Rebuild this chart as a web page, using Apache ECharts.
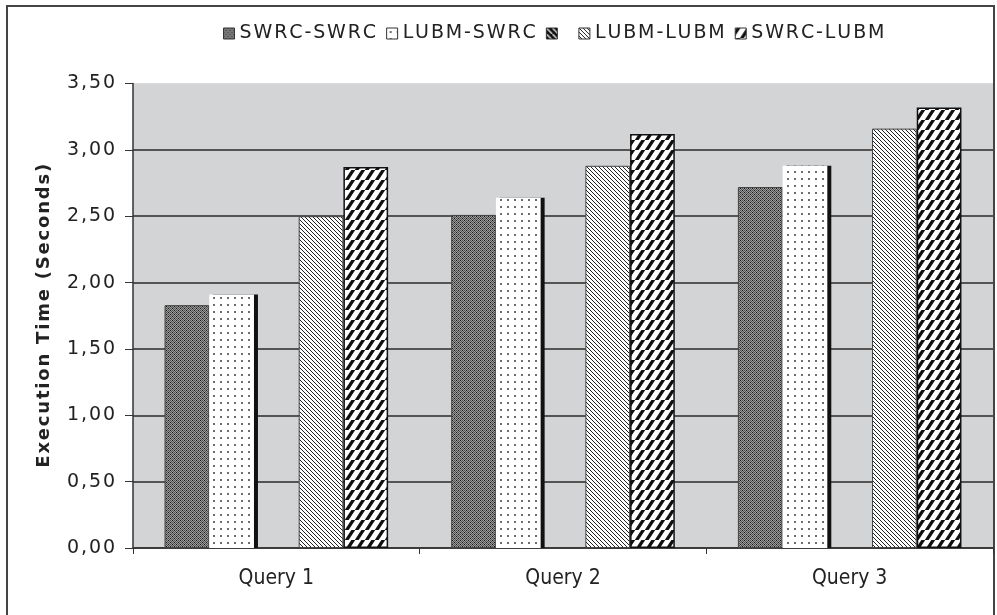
<!DOCTYPE html>
<html>
<head>
<meta charset="utf-8">
<script src="https://cdn.jsdelivr.net/npm/echarts@6/dist/echarts.min.js"></script>
<style>
  html, body { margin: 0; padding: 0; background: #fff; }
  #chart { width: 997px; height: 615px; }
</style>
</head>
<body>
<div id="chart"></div>
<script>
// data
const categories = ['Query 1', 'Query 2', 'Query 3']
const seriesNames = ['SWRC-SWRC', 'LUBM-SWRC', ' ', 'LUBM-LUBM', 'SWRC-LUBM']
const swrcSwrc = [1.83, 2.51, 2.72]
const lubmSwrc = [1.91, 2.64, 2.88]
const emptySeries = ['-', '-', '-']
const lubmLubm = [2.50, 2.88, 3.16]
const swrcLubm = [2.87, 3.12, 3.32]
const yTicks = [0, 0.5, 1, 1.5, 2, 2.5, 3, 3.5]

// the original text is letter-spaced, fake it with hair spaces
const spaced = s => s.split('').join('\u200A')

// small canvas tiles used as fill patterns
function tile(w, h, draw) {
    const c = document.createElement('canvas')
    c.width = w
    c.height = h
    const ctx = c.getContext('2d')
    draw(ctx)
    return { image: c, repeat: 'repeat' }
}

// dark dithered grey
const patChecker = tile(4, 4, ctx => {
    for (let x = 0; x < 4; x++) {
        for (let y = 0; y < 4; y++) {
            ctx.fillStyle = (x + y) % 2 === 0 ? '#525252' : '#9c9c9c'
            ctx.fillRect(x, y, 1, 1)
        }
    }
    ctx.fillStyle = '#151515'
    ctx.fillRect(0, 0, 1, 1)
    ctx.fillRect(2, 2, 1, 1)
})

// white with grey dots
const patDots = tile(7, 7, ctx => {
    ctx.fillStyle = '#fff'
    ctx.fillRect(0, 0, 7, 7)
    ctx.fillStyle = '#6d6d6d'
    ctx.fillRect(3, 3, 2, 2)
})

// thin "\" hatching
const patThin = tile(4, 4, ctx => {
    ctx.fillStyle = '#fff'
    ctx.fillRect(0, 0, 4, 4)
    ctx.fillStyle = '#222'
    for (let i = 0; i < 4; i++) ctx.fillRect(i, i, 1, 1)
})

// thick "/" stripes
const patThick = tile(10, 10, ctx => {
    ctx.fillStyle = '#fff'
    ctx.fillRect(0, 0, 10, 10)
    ctx.strokeStyle = '#111'
    ctx.lineWidth = 3.2
    ctx.beginPath()
    for (let k = -10; k <= 20; k += 10) {
        ctx.moveTo(k - 10, 10 + 10)
        ctx.lineTo(k + 10, -10 + 10 - 10)
    }
    ctx.stroke()
})

// dark stripes, only used by the empty legend entry
const patDark = tile(6, 6, ctx => {
    ctx.fillStyle = '#111'
    ctx.fillRect(0, 0, 6, 6)
    ctx.strokeStyle = '#ddd'
    ctx.lineWidth = 1.5
    ctx.beginPath()
    ctx.moveTo(0, 0)
    ctx.lineTo(6, 6)
    ctx.stroke()
})

const chart = echarts.init(document.getElementById('chart'))

const barBase = {
    type: 'bar',
    barGap: '0%',
    barCategoryGap: '22%'
}

const option = {
    backgroundColor: '#fff',
    animation: false,
    textStyle: { fontFamily: 'DejaVu Sans' },
    graphic: [
        {
            type: 'rect',
            shape: { x: 7, y: 6, width: 987, height: 700 },
            style: { fill: 'none', stroke: '#444', lineWidth: 2 },
            z: 0
        }
    ],
    legend: {
        top: 19,
        left: 218,
        itemWidth: 11,
        itemHeight: 11,
        itemGap: 10,
        icon: 'rect',
        formatter: name => spaced(name),
        textStyle: { fontSize: 19, color: '#222', fontFamily: 'DejaVu Sans' },
        itemStyle: { borderColor: '#333', borderWidth: 1 },
        data: seriesNames
    },
    grid: {
        left: 133,
        right: 4,
        top: 83.5,
        bottom: 67,
        show: true,
        backgroundColor: '#d3d4d6',
        borderWidth: 0
    },
    xAxis: {
        type: 'category',
        data: categories,
        axisLine: { lineStyle: { color: '#333', width: 1.5 } },
        axisTick: { show: true, length: 6, lineStyle: { color: '#333' } },
        axisLabel: {
            margin: 20,
            fontSize: 21,
            color: '#222',
            fontFamily: '"DejaVu Sans Condensed", "DejaVu Sans"'
        }
    },
    yAxis: {
        type: 'value',
        min: 0,
        max: 3.5,
        interval: 0.5,
        name: spaced('Execution Time (Seconds)'),
        nameLocation: 'middle',
        nameGap: 80,
        nameTextStyle: { fontSize: 18, fontWeight: 'bold', color: '#222' },
        axisLine: { show: true, lineStyle: { color: '#333', width: 1.5 } },
        axisTick: { show: true, length: 8, lineStyle: { color: '#333' } },
        axisLabel: {
            margin: 18,
            fontSize: 19,
            color: '#222',
            formatter: v => spaced(v.toFixed(2).replace('.', ','))
        },
        splitLine: {
            lineStyle: {
                // last line (at max) blends into the plot background
                color: yTicks.map((t, i) => i === yTicks.length - 1 ? '#d3d4d6' : '#2a2a2a'),
                width: 1.5
            }
        }
    },
    series: [
        Object.assign({}, barBase, {
            name: seriesNames[0],
            data: swrcSwrc,
            itemStyle: { color: patChecker, borderColor: '#444', borderWidth: 1 }
        }),
        Object.assign({}, barBase, {
            name: seriesNames[1],
            data: lubmSwrc,
            itemStyle: {
                color: patDots,
                borderWidth: 0,
                shadowColor: '#111',
                shadowOffsetX: 4,
                shadowOffsetY: 0,
                shadowBlur: 0
            }
        }),
        Object.assign({}, barBase, {
            name: seriesNames[2],
            data: emptySeries,
            itemStyle: { color: patDark, borderColor: '#222', borderWidth: 1 }
        }),
        Object.assign({}, barBase, {
            name: seriesNames[3],
            data: lubmLubm,
            itemStyle: { color: patThin, borderColor: '#444', borderWidth: 1 }
        }),
        Object.assign({}, barBase, {
            name: seriesNames[4],
            data: swrcLubm,
            itemStyle: { color: patThick, borderColor: '#111', borderWidth: 1.5 }
        })
    ]
}

chart.setOption(option)
</script>
</body>
</html>
